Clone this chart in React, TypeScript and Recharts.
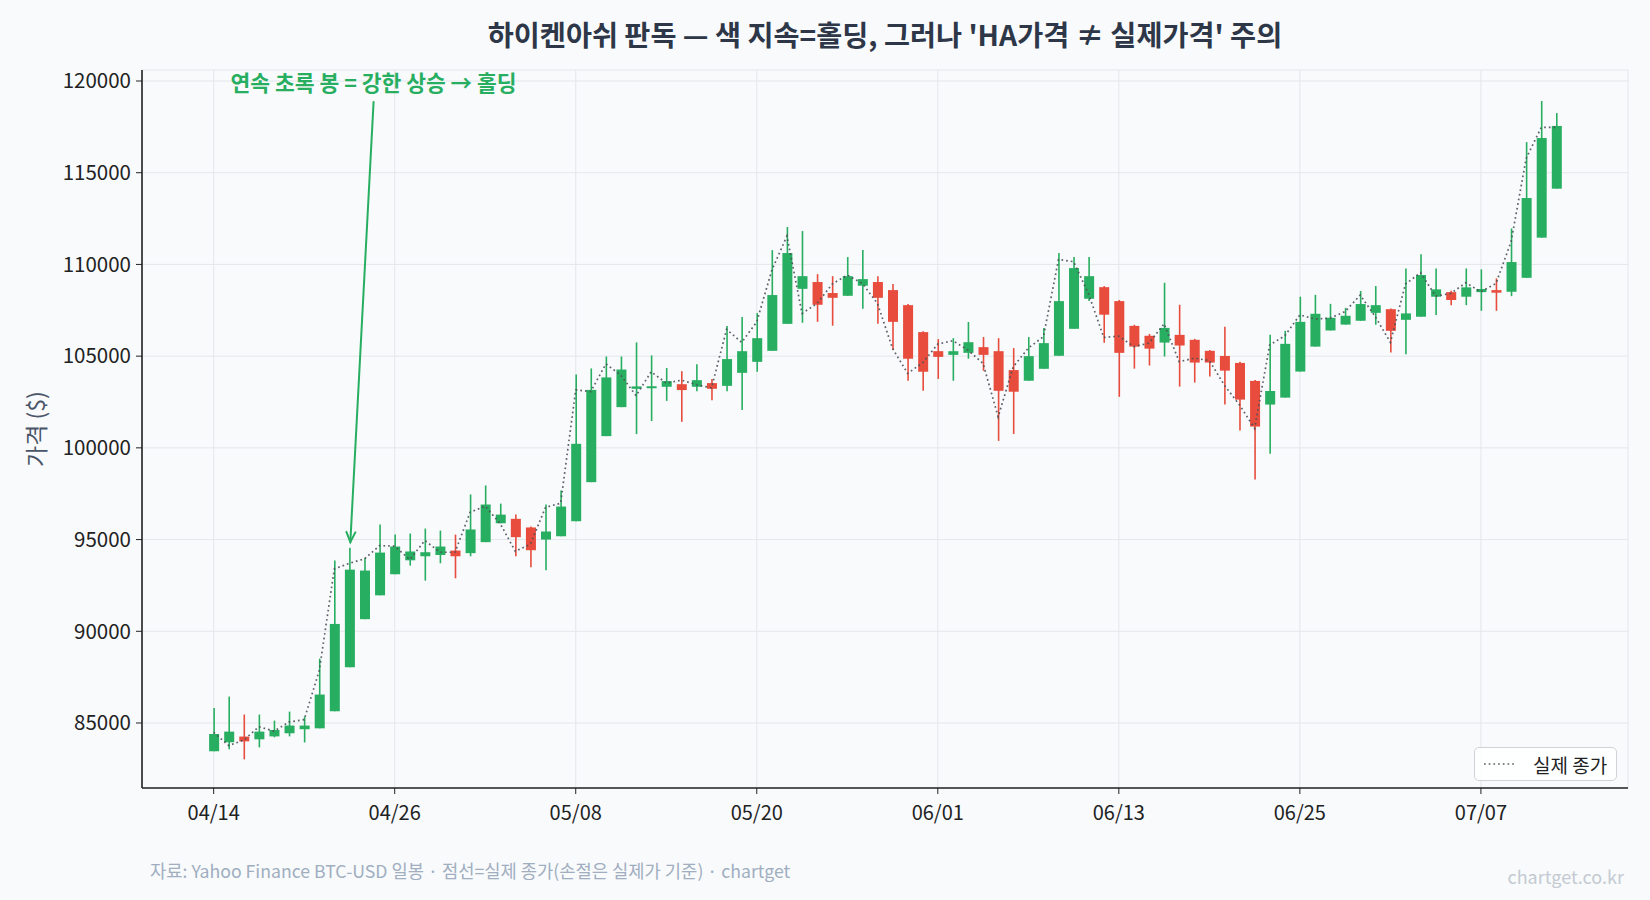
import React from 'react';
import {
  ComposedChart,
  Bar,
  Line,
  XAxis,
  YAxis,
  CartesianGrid,
  ReferenceLine,
  ReferenceDot,
} from 'recharts';

const GREEN = '#27ae60';
const RED = '#e74c3c';
const FONT = '"Noto Sans CJK KR", "Noto Sans", sans-serif';

// x ticks every 12 days from 04/14
const dateTicks = [0, 12, 24, 36, 48, 60, 72, 84];
const dateLabels = ['04/14', '04/26', '05/08', '05/20', '06/01', '06/13', '06/25', '07/07'];
const priceTicks = [85000, 90000, 95000, 100000, 105000, 110000, 115000, 120000];

// Heikin-Ashi candles, 04/14 ~ 07/12
const haOpen = [
  83460, 83950, 84260, 84110, 84270, 84440, 84660, 84710, 85640, 88040,
  90660, 91960, 93110, 93870, 94090, 94160, 94400, 94260, 94860, 95890,
  96130, 95660, 95000, 95180, 96000, 98130, 100640, 102220, 103220, 103260,
  103330, 103470, 103330, 103530, 103380, 104090, 104690, 105290, 106760, 108670,
  109040, 108440, 108290, 108840, 109040, 108600, 107780, 106310, 105270, 105070,
  105180, 105490, 105270, 104240, 103660, 104310, 105020, 106490, 108130, 108760,
  108000, 106650, 106110, 105740, 106160, 105890, 105290, 105010, 104630, 103650,
  102360, 102740, 104160, 105520, 106400, 106720, 106930, 107360, 107560, 106980,
  107150, 108240, 108490, 108240, 108490, 108600, 108510, 109270, 111460, 114130,
];
const haHigh = [
  85820, 86440, 85460, 85460, 85130, 85620, 85350, 88510, 93860, 94560,
  94000, 95820, 95270, 95330, 95600, 95490, 95270, 97460, 97950, 96960,
  96360, 95710, 96910, 97670, 104000, 104330, 104980, 104980, 105750, 105040,
  104350, 104180, 104560, 103750, 106640, 107130, 107350, 110780, 112040, 111820,
  109470, 109360, 110400, 110780, 109360, 108930, 107840, 106360, 105930, 105980,
  106860, 106040, 105980, 105440, 106040, 106530, 110620, 110400, 110400, 108820,
  108060, 106710, 106210, 109000, 107800, 105940, 105340, 106600, 104690, 103700,
  106160, 106380, 108240, 108340, 107850, 107630, 108550, 108820, 107600, 109780,
  110560, 109780, 108560, 109780, 109730, 109240, 111960, 116670, 118910, 118250,
];
const haLow = [
  83460, 83570, 83020, 83670, 84220, 84270, 83940, 84710, 85640, 88040,
  90660, 91960, 93110, 93580, 92760, 93710, 92890, 94090, 94860, 95890,
  94090, 93490, 93330, 95180, 96000, 98130, 100640, 102220, 100750, 101460,
  102560, 101420, 103090, 102600, 103090, 102060, 104150, 105290, 106760, 106820,
  106870, 106660, 108290, 107580, 106760, 105350, 103660, 103110, 103760, 103660,
  104860, 104200, 100380, 100760, 103660, 104310, 105020, 106490, 108000, 105730,
  102780, 104320, 104490, 104980, 103340, 103560, 103890, 102360, 100940, 98280,
  99680, 102740, 104160, 105520, 106400, 106720, 106930, 106710, 105200, 105100,
  107150, 107240, 107780, 107780, 107470, 107470, 108270, 109270, 111460, 114130,
];
const haClose = [
  84400, 84530, 84000, 84530, 84620, 84860, 84860, 86550, 90400, 93360,
  93310, 94290, 94620, 94350, 94310, 94620, 94090, 95550, 96910, 96360,
  95130, 94420, 95440, 96800, 100220, 103160, 103840, 104270, 103350, 103350,
  103640, 103150, 103690, 103220, 104840, 105270, 105980, 108330, 110620, 109360,
  107800, 108180, 109360, 109200, 108180, 106870, 104860, 104150, 104960, 105270,
  105760, 105070, 103110, 103060, 105000, 105710, 108000, 109800, 109360, 107260,
  105180, 105520, 105410, 106540, 105580, 104650, 104650, 104210, 102630, 101160,
  103100, 105670, 106870, 107310, 107090, 107200, 107840, 107780, 106380, 107330,
  109420, 108640, 108060, 108750, 108660, 108460, 110130, 113620, 116890, 117550,
];
// actual daily close (dotted line)
const realClose = [
  84490, 83770, 84070, 84800, 84550, 85060, 85180, 87860, 93400, 93710,
  93950, 94670, 94640, 93910, 94950, 94310, 94310, 96490, 96820, 95860,
  94350, 94760, 96760, 96980, 103160, 103070, 104580, 103950, 102840, 104150,
  103530, 103690, 103440, 103270, 106460, 105750, 106870, 109690, 111550, 107330,
  107870, 108930, 109420, 108960, 107870, 105420, 104060, 104640, 105660, 105840,
  105330, 104600, 101690, 104420, 105440, 106060, 110270, 110150, 108380, 106020,
  106090, 105520, 105710, 106760, 104700, 104890, 104760, 103410, 102340, 101060,
  105610, 106110, 107250, 107020, 107070, 107430, 108330, 107150, 105750, 108930,
  109550, 108270, 108420, 109000, 108510, 108960, 111240, 115780, 117470, 117470,
];

const data = haOpen.map((open, i) => ({
  day: i,
  open,
  high: haHigh[i],
  low: haLow[i],
  close: haClose[i],
  range: [haLow[i], haHigh[i]],
  real: realClose[i],
}));

// wick + body, positioned from the bar's low..high pixel span
function Candle(props: any) {
  const { x, y, width, height, payload } = props;
  if (!payload) return null;
  const { open, close, high, low } = payload;
  const color = close >= open ? GREEN : RED;
  const span = high - low || 1;
  const toY = (v: number) => y + ((high - v) / span) * height;
  const cx = x + width / 2;
  const top = toY(Math.max(open, close));
  const bottom = toY(Math.min(open, close));
  const bodyH = Math.max(bottom - top, 2);
  return (
    <g>
      <line x1={cx} x2={cx} y1={y} y2={y + height} stroke={color} strokeWidth={1.6} />
      <rect x={x} y={top - (bodyH - (bottom - top)) / 2} width={width} height={bodyH} fill={color} />
    </g>
  );
}

function Arrow(props: any) {
  const { x1, y1, x2, y2 } = props;
  if (x1 == null) return null;
  const ang = Math.atan2(y2 - y1, x2 - x1);
  const len = 11;
  const spread = 0.42;
  const hx1 = x2 - len * Math.cos(ang - spread);
  const hy1 = y2 - len * Math.sin(ang - spread);
  const hx2 = x2 - len * Math.cos(ang + spread);
  const hy2 = y2 - len * Math.sin(ang + spread);
  return (
    <g stroke={GREEN} strokeWidth={2} fill="none" strokeLinecap="round">
      <line x1={x1} y1={y1} x2={x2} y2={y2} />
      <polyline points={`${hx1},${hy1} ${x2},${y2} ${hx2},${hy2}`} />
    </g>
  );
}

function NoteText(props: any) {
  const { cx, cy } = props;
  return (
    <text
      x={cx}
      y={cy}
      textAnchor="middle"
      dominantBaseline="central"
      fill={GREEN}
      fontSize={21.5}
      fontWeight={700}
      fontFamily={FONT}
    >
      연속 초록 봉 = 강한 상승 → 홀딩
    </text>
  );
}

function YLabel(props: any) {
  const { viewBox } = props;
  const cy = viewBox.y + viewBox.height / 2;
  return (
    <text
      x={35}
      y={cy}
      transform={`rotate(-90, 35, ${cy})`}
      textAnchor="middle"
      dominantBaseline="central"
      fill="#4a5568"
      fontSize={23}
      fontFamily={FONT}
    >
      가격 ($)
    </text>
  );
}

export default function App() {
  return (
    <div
      style={{
        position: 'absolute',
        left: 0,
        top: 0,
        width: 1650,
        height: 900,
        background: '#f8fafc',
        fontFamily: FONT,
      }}
    >
      <div
        style={{
          position: 'absolute',
          left: 142,
          width: 1486,
          top: 15,
          textAlign: 'center',
          fontSize: 28.3,
          fontWeight: 700,
          color: '#2d3748',
          lineHeight: '38px',
        }}
      >
        하이켄아쉬 판독 — 색 지속=홀딩, 그러나 'HA가격 ≠ 실제가격' 주의
      </div>

      <ComposedChart
        width={1650}
        height={900}
        data={data}
        margin={{ top: 70, right: 22, bottom: 72, left: 0 }}
        style={{ position: 'absolute', left: 0, top: 0 }}
      >
        <CartesianGrid stroke="#e4e7eb" strokeWidth={1} />
        <XAxis
          dataKey="day"
          type="number"
          domain={[-4.75, 93.75]}
          ticks={dateTicks}
          tickFormatter={(v: number) => dateLabels[dateTicks.indexOf(v)]}
          height={40}
          axisLine={{ stroke: '#222', strokeWidth: 1.6 }}
          tickLine={{ stroke: '#222' }}
          tickSize={6}
          tickMargin={12}
          tick={{ fill: '#222', fontSize: 20, fontFamily: FONT }}
          allowDataOverflow
        />
        <YAxis
          type="number"
          domain={[81456, 120600]}
          ticks={priceTicks}
          width={142}
          axisLine={{ stroke: '#222', strokeWidth: 1.6 }}
          tickLine={{ stroke: '#222' }}
          tickSize={6}
          tickMargin={5}
          tick={{ fill: '#222', fontSize: 20.5, fontFamily: FONT }}
          allowDataOverflow
          label={<YLabel />}
        />
        <Bar
          dataKey="range"
          barSize={10}
          shape={<Candle />}
          isAnimationActive={false}
          legendType="none"
        />
        <Line
          dataKey="real"
          name="실제 종가"
          type="linear"
          stroke="#4d5059"
          strokeOpacity={0.9}
          strokeWidth={1.7}
          strokeDasharray="1.7 3"
          dot={false}
          activeDot={false}
          isAnimationActive={false}
        />
        <ReferenceLine
          segment={[
            { x: 10.6, y: 118860 },
            { x: 9.06, y: 94860 },
          ]}
          shape={<Arrow />}
          ifOverflow="visible"
        />
        <ReferenceDot x={10.6} y={119950} r={0} shape={<NoteText />} ifOverflow="visible" />
      </ComposedChart>

      {/* legend box, lower right of the plot */}
      <div
        style={{
          position: 'absolute',
          left: 1474,
          top: 747,
          width: 143,
          height: 34,
          display: 'flex',
          alignItems: 'center',
          padding: '0 8px',
          border: '1px solid #cfd3d8',
          borderRadius: 5,
          background: 'rgba(255,255,255,0.85)',
          fontSize: 19,
          color: '#222',
          boxSizing: 'border-box',
        }}
      >
        <svg width={34} height={10} style={{ marginRight: 16, flexShrink: 0 }}>
          <line x1={1} x2={33} y1={5} y2={5} stroke="#4d5059" strokeOpacity={0.9} strokeWidth={1.7} strokeDasharray="1.7 3" />
        </svg>
        <span style={{ whiteSpace: 'nowrap' }}>실제 종가</span>
      </div>

      <div
        style={{
          position: 'absolute',
          left: 150,
          top: 858,
          fontSize: 17.7,
          color: '#a0aec0',
          lineHeight: '24px',
          whiteSpace: 'nowrap',
        }}
      >
        자료: Yahoo Finance BTC-USD 일봉 · 점선=실제 종가(손절은 실제가 기준) · chartget
      </div>
      <div
        style={{
          position: 'absolute',
          right: 26,
          top: 864,
          fontSize: 18,
          color: '#c4cad2',
          lineHeight: '24px',
        }}
      >
        chartget.co.kr
      </div>
    </div>
  );
}
